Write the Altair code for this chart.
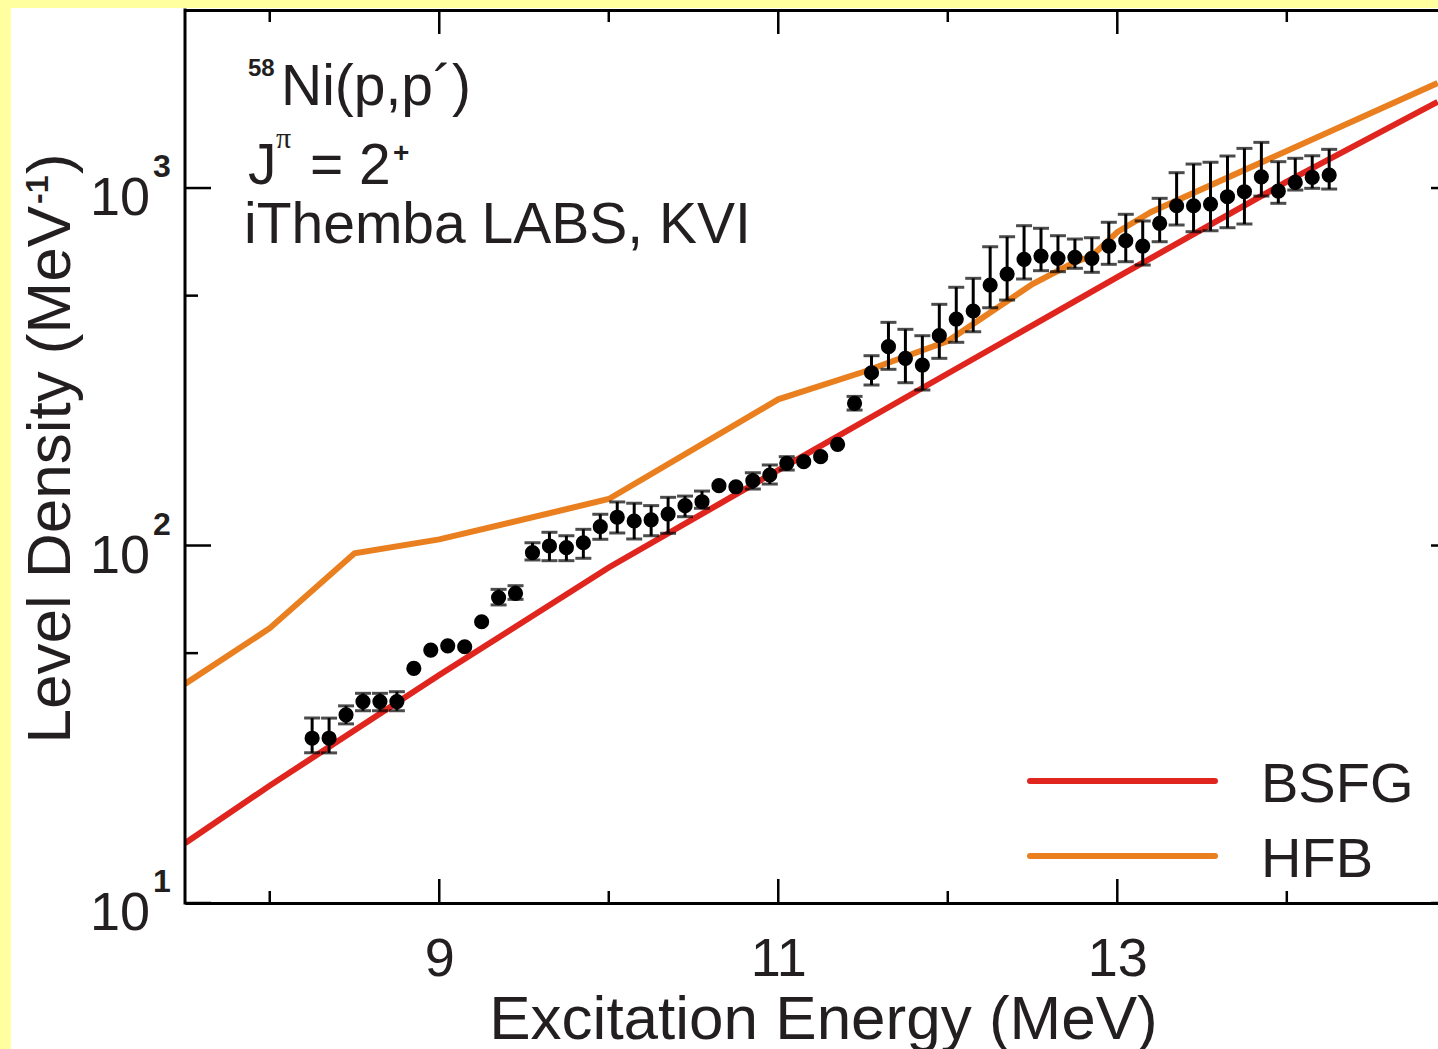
import altair as alt
import pandas as pd

# ---- measured level density, 58Ni(p,p') J^pi = 2+ ----
energy = [8.25, 8.35, 8.45, 8.55, 8.65, 8.75, 8.85, 8.95, 9.05, 9.15,
          9.25, 9.35, 9.45, 9.55, 9.65, 9.75, 9.85, 9.95, 10.05, 10.15,
          10.25, 10.35, 10.45, 10.55, 10.65, 10.75, 10.85, 10.95, 11.05, 11.15,
          11.25, 11.35, 11.45, 11.55, 11.65, 11.75, 11.85, 11.95, 12.05, 12.15,
          12.25, 12.35, 12.45, 12.55, 12.65, 12.75, 12.85, 12.95, 13.05, 13.15,
          13.25, 13.35, 13.45, 13.55, 13.65, 13.75, 13.85, 13.95, 14.05, 14.15,
          14.25]
density = [28.9, 28.9, 33.6, 36.6, 36.6, 36.6, 45.3, 51.0, 52.4, 52.1,
           61.2, 71.5, 73.5, 95.5, 99.7, 98.6, 101.8, 112.9, 120.0, 117.1,
           117.9, 122.5, 129.3, 132.6, 147.0, 146.0, 151.8, 157.5, 169.8, 171.6,
           177.2, 191.9, 249.9, 304.3, 359.9, 333.9, 319.8, 386.3, 430.1, 452.9,
           535.4, 574.7, 631.7, 645.3, 635.9, 640.0, 635.9, 688.3, 712.3, 688.3,
           796.9, 892.2, 892.2, 902.1, 945.6, 976.6, 1075, 980.9, 1037, 1071,
           1087]
err_hi = [32.9, 32.9, 35.6, 38.6, 38.6, 39.0, None, None, None, None,
          None, 75.4, 77.2, 101.8, 108.9, 106.5, 111.0, 122.3, 132.4, 131.3,
          129.3, 136.4, 137.5, 142.0, None, None, 159.8, 168.0, 177.2, None,
          None, None, 261.3, 339.6, 421.0, 402.5, 386.3, 472.8, 527.7, 559.0,
          685.1, 730.8, 784.6, 771.6, 735.6, 720.0, 726.1, 802.1, 844.4, 808.8,
          935.9, 1104, 1167, 1180, 1229, 1291, 1342, 1185, 1211, 1231,
          1283]
err_lo = [26.3, 26.3, 31.7, 34.5, 34.5, 34.5, None, None, None, None,
          None, 68.2, 70.7, 91.1, 90.7, 90.7, 92.1, 104.1, 108.4, 104.3,
          106.5, 108.2, 120.4, 127.1, None, None, 143.9, 148.6, 162.6, None,
          None, None, 239.3, 281.2, 311.1, 285.4, 272.3, 333.9, 370.2, 396.3,
          462.5, 486.1, 556.6, 587.2, 583.4, 596.3, 581.1, 611.8, 622.2, 609.0,
          707.7, 788.1, 754.8, 759.7, 774.5, 793.2, 949.6, 906.3, 987.2, 998.1,
          993.6]

# ---- model curves ----
bsfg_e = [7.5, 8.0, 9.0, 10.0, 11.0, 12.0, 13.0, 14.0, 14.89]
bsfg_rho = [14.7, 21.3, 43.4, 86.8, 162.6, 302.8, 563.4, 1042, 1743]
hfb_e = [7.5, 8.0, 8.5, 9.0, 10.0, 11.0, 11.5, 12.0, 12.5, 12.75, 12.85, 13.0, 13.2, 14.89]
hfb_rho = [41.0, 58.7, 95.1, 104.0, 134.9, 256.4, 305.7, 373.3, 538.9, 620.9, 645.4, 753.2, 856.8, 1967]

model_names = ["BSFG", "HFB"]
model_colors = ["#E0251F", "#E97F1E"]

# ---- axis ticks and labels ----
x_major = [9, 11, 13]
x_minor = [8, 10, 12, 14]
y_major = [10, 100, 1000]
y_minor = [50, 500]
y_base = ["10", "10", "10"]
y_exponent = ["1", "2", "3"]

notes_reaction = ["58", "Ni(p,p´)"]
notes_spin = ["J", "π", "= 2", "+"]
notes_lab = "iThemba LABS, KVI"

SANS = "Liberation Sans"
SERIF = "Liberation Serif"
INK = "#231F20"
YELLOW = "#FFFF9F"
W, H = 1253, 893

xs = alt.Scale(domain=[7.5, 14.892], nice=False, zero=False)
ys = alt.Scale(type="log", domain=[10, 3148], nice=False)

pts = pd.DataFrame({"E": energy, "rho": density, "hi": err_hi, "lo": err_lo})
bars = pts.dropna().reset_index(drop=True)
models = pd.concat([
    pd.DataFrame({"E": bsfg_e, "rho": bsfg_rho, "model": "BSFG"}),
    pd.DataFrame({"E": hfb_e, "rho": hfb_rho, "model": "HFB"}),
])
one = pd.DataFrame({"k": [0]})

# white sheet on the yellow page
sheet = alt.Chart(one).mark_rect(color="white").encode(
    x=alt.value(-174), x2=alt.value(W + 20), y=alt.value(-2), y2=alt.value(H + 200)
)

bottom_axis = alt.Axis(
    orient="bottom", values=x_major, format="d", grid=False, ticks=False, tickSize=0,
    domainWidth=3, domainColor="black", zindex=2,
    labelFont=SANS, labelFontSize=54, labelColor=INK, labelPadding=72,
    labelBaseline="alphabetic", labelOverlap=False,
    title="Excitation Energy (MeV)", titleFont=SANS, titleFontSize=62,
    titleFontWeight="normal", titleColor=INK, titleX=638, titleY=135,
    titleAlign="center", titleBaseline="alphabetic",
)
left_axis = alt.Axis(orient="left", labels=False, ticks=False, tickSize=0, grid=False,
                     domainWidth=3, domainColor="black", title=None, zindex=2)
top_axis = alt.Axis(orient="top", labels=False, ticks=False, tickSize=0, grid=False,
                    domainWidth=3, domainColor="black", title=None, zindex=2)

curves = alt.Chart(models).mark_line(strokeWidth=6, clip=True).encode(
    x=alt.X("E:Q", scale=xs, axis=None),
    y=alt.Y("rho:Q", scale=ys, axis=None),
    color=alt.Color("model:N", scale=alt.Scale(domain=model_names, range=model_colors), legend=None),
)

err_rule = alt.Chart(bars).mark_rule(color="black", strokeWidth=3).encode(
    x=alt.X("E:Q", scale=xs, axis=None),
    y=alt.Y("lo:Q", scale=ys, axis=None),
    y2="hi:Q",
)
cap_hi = alt.Chart(bars).mark_tick(color="black", orient="horizontal", size=16, thickness=3).encode(
    x=alt.X("E:Q", scale=xs, axis=None), y=alt.Y("hi:Q", scale=ys, axis=None)
)
cap_lo = alt.Chart(bars).mark_tick(color="black", orient="horizontal", size=16, thickness=3).encode(
    x=alt.X("E:Q", scale=xs, axis=None), y=alt.Y("lo:Q", scale=ys, axis=None)
)
dots = alt.Chart(pts).mark_circle(color="black", size=230, opacity=1).encode(
    x=alt.X("E:Q", scale=xs, axis=None), y=alt.Y("rho:Q", scale=ys, axis=None)
)

# frame axes plus inward tick marks on all sides
xmaj = pd.DataFrame({"t": x_major})
xmin = pd.DataFrame({"t": x_minor})
ymaj = pd.DataFrame({"t": y_major})
ymin = pd.DataFrame({"t": y_minor})


def xticks(df, y0, y1, axis=None):
    return alt.Chart(df).mark_rule(color="black", strokeWidth=2.5).encode(
        x=alt.X("t:Q", scale=xs, axis=axis), y=alt.value(y0), y2=alt.value(y1)
    )


def yticks(df, x0, x1, axis=None):
    return alt.Chart(df).mark_rule(color="black", strokeWidth=2.5).encode(
        y=alt.Y("t:Q", scale=ys, axis=axis), x=alt.value(x0), x2=alt.value(x1)
    )


tick_layers = [
    xticks(xmaj, H, H - 24, axis=bottom_axis), xticks(xmin, H, H - 12),
    xticks(xmaj, 0, 24, axis=top_axis), xticks(xmin, 0, 12),
    yticks(ymaj, 0, 26, axis=left_axis), yticks(ymin, 0, 13),
    yticks(ymaj, W - 7, W),
]

# left frame line (drawn as a rule so it always sits on top of the sheet)
left_frame = alt.Chart(one).mark_rule(color="black", strokeWidth=3).encode(
    x=alt.value(0), y=alt.value(-1.5), y2=alt.value(H + 1.5)
)

# power-of-ten tick labels: "10" with a raised bold exponent
decades = pd.DataFrame({"t": y_major, "b": y_base, "s": y_exponent})
decade_base = alt.Chart(decades).mark_text(
    align="right", baseline="alphabetic", dy=27, font=SANS, fontSize=54, color=INK
).encode(x=alt.value(-35), y=alt.Y("t:Q", scale=ys, axis=None), text="b:N")
decade_exp = alt.Chart(decades).mark_text(
    align="left", baseline="alphabetic", dy=-11, font=SANS, fontSize=32, fontWeight="bold", color=INK
).encode(x=alt.value(-32), y=alt.Y("t:Q", scale=ys, axis=None), text="s:N")


def label(txt, x, y, size, weight="normal", font=SANS, align="left", angle=0, color=INK):
    return alt.Chart(one).mark_text(
        align=align, baseline="alphabetic", font=font, fontSize=size,
        fontWeight=weight, color=color, angle=angle
    ).encode(x=alt.value(x), y=alt.value(y), text=alt.value(txt))


texts = [
    label(notes_reaction[0], 63, 66, 24, weight="bold"),
    label(notes_reaction[1], 96, 95, 57),
    label(notes_spin[0], 63, 174, 57),
    label(notes_spin[1], 91, 138, 30, font=SERIF),
    label(notes_spin[2], 125, 174, 57),
    label(notes_spin[3], 208, 152, 28, weight="bold"),
    label(notes_lab, 59, 233, 57),
    # rotated y title
    label("Level Density (MeV", -115, 196, 62, align="right", angle=270),
    label("-1", -137, 194, 32, weight="bold", align="left", angle=270),
    label(")", -115, 164, 62, align="left", angle=270),
]

# legend
legend_lines = [
    alt.Chart(one).mark_rule(color=model_colors[i], strokeWidth=6, strokeCap="round").encode(
        x=alt.value(845), x2=alt.value(1030), y=alt.value(771 + 75 * i)
    )
    for i in range(len(model_names))
]
legend_text = [label(model_names[i], 1076, 792 + 75 * i, 56) for i in range(len(model_names))]

chart = alt.layer(
    sheet, curves, err_rule, cap_hi, cap_lo, dots, *tick_layers, left_frame,
    decade_base, decade_exp, *texts, *legend_lines, *legend_text
).properties(
    width=W, height=H,
    autosize=alt.AutoSizeParams(type="none"),
    padding={"left": 185, "top": 10, "right": 0, "bottom": 146},
    background=YELLOW,
).configure_view(strokeWidth=0)

chart.save("out.html", embed_options={"renderer": "svg", "actions": False})
